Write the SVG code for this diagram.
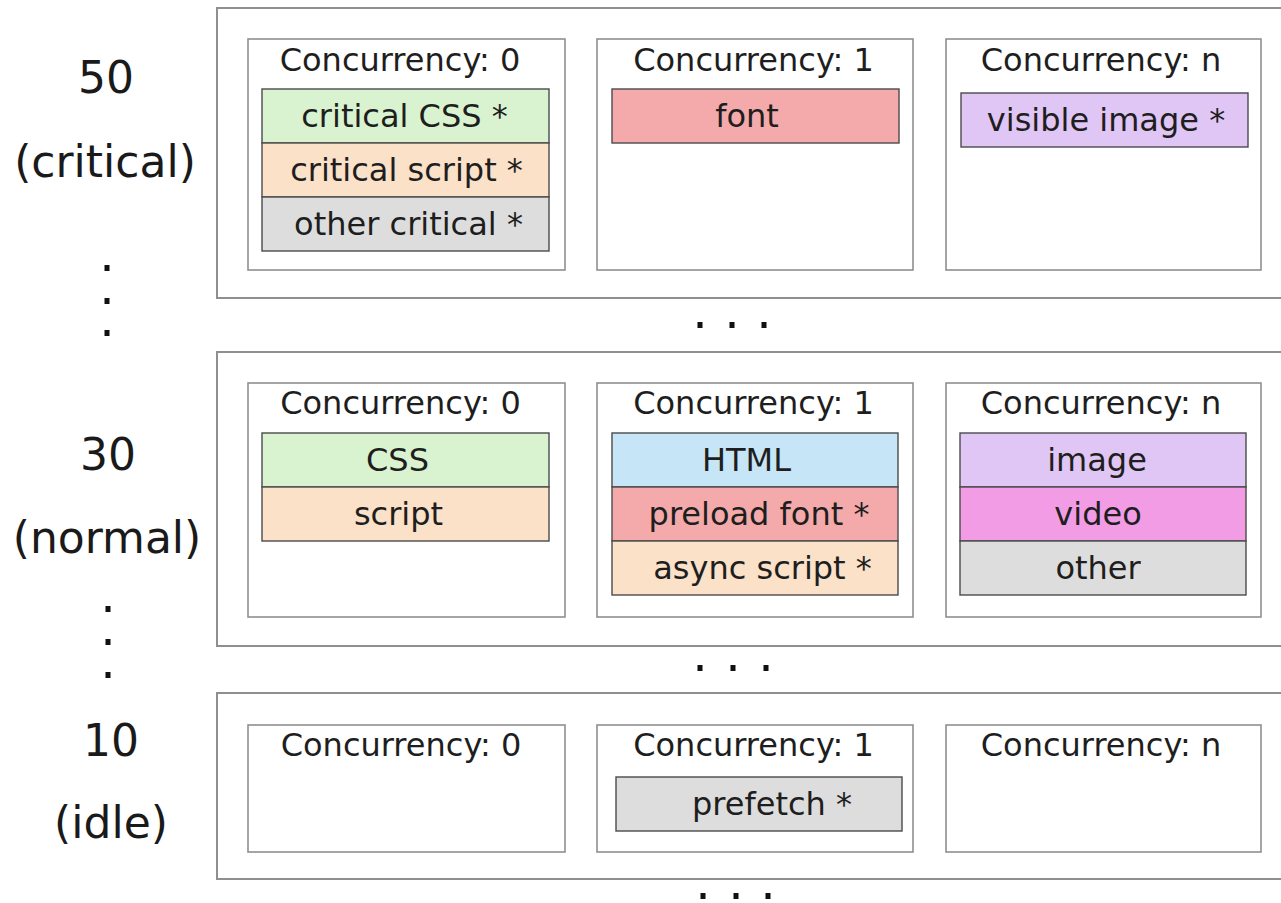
<svg xmlns="http://www.w3.org/2000/svg" width="1281" height="903" viewBox="0 0 1281 903">
  <style>
    .band { fill: #ffffff; stroke: #8f8f8f; stroke-width: 2; }
    .queue { fill: #ffffff; stroke: #8f8f8f; stroke-width: 1.6; }
    .item { stroke: #4a4a4a; stroke-width: 1.4; }
    .title { font-family: "DejaVu Sans", Verdana, sans-serif; font-size: 32px; fill: #1e1e1e; text-anchor: middle; }
    .label { font-family: "DejaVu Sans", Verdana, sans-serif; font-size: 32px; fill: #1e1e1e; text-anchor: middle; }
    .prio { font-family: "DejaVu Sans", Verdana, sans-serif; font-size: 44px; fill: #1a1a1a; text-anchor: middle; }
    .dot { fill: #111111; }
    .css { fill: #d9f3d0; }
    .script { fill: #fae1c8; }
    .other { fill: #dddddd; }
    .font { fill: #f4aaab; }
    .image { fill: #e0c6f5; }
    .html { fill: #c6e6f8; }
    .video { fill: #f29ce5; }
  </style>

  <rect width="1281" height="903" fill="#ffffff"/>

  <!-- priority labels -->
  <g id="priority-labels">
    <text class="prio" x="106" y="93">50</text>
    <text class="prio" x="105" y="177">(critical)</text>
    <text class="prio" x="108" y="470">30</text>
    <text class="prio" x="107" y="553">(normal)</text>
    <text class="prio" x="111" y="756">10</text>
    <text class="prio" x="111" y="838">(idle)</text>
  </g>

  <!-- ellipsis dots -->
  <g id="ellipses">
    <rect class="dot" x="104.5" y="265" width="5" height="6"/>
    <rect class="dot" x="104.5" y="298" width="5" height="6"/>
    <rect class="dot" x="104.5" y="330" width="5" height="6"/>
    <rect class="dot" x="105.5" y="606" width="5" height="6"/>
    <rect class="dot" x="105.5" y="639" width="5" height="6"/>
    <rect class="dot" x="105.5" y="672" width="5" height="6"/>
    <rect class="dot" x="697.5" y="322" width="5" height="6"/>
    <rect class="dot" x="729.5" y="322" width="5" height="6"/>
    <rect class="dot" x="761.5" y="322" width="5" height="6"/>
    <rect class="dot" x="697.5" y="665" width="5" height="6"/>
    <rect class="dot" x="730.5" y="665" width="5" height="6"/>
    <rect class="dot" x="763.5" y="665" width="5" height="6"/>
    <rect class="dot" x="700.5" y="893" width="5" height="6"/>
    <rect class="dot" x="733.5" y="893" width="5" height="6"/>
    <rect class="dot" x="765.5" y="893" width="5" height="6"/>
  </g>

  <!-- priority 50 band -->
  <g id="band-critical">
    <rect class="band" x="217" y="8" width="1100" height="290"/>
  </g>
  <g id="critical-c0">
    <rect class="queue" x="248" y="39" width="317" height="231"/>
    <text class="title" x="400" y="71">Concurrency: 0</text>
    <rect class="item css" x="262" y="89" width="287" height="54"/>
    <text class="label" x="404.5" y="127">critical CSS *</text>
    <rect class="item script" x="262" y="143" width="287" height="54"/>
    <text class="label" x="406.5" y="181">critical script *</text>
    <rect class="item other" x="262" y="197" width="287" height="54"/>
    <text class="label" x="408.5" y="235">other critical *</text>
  </g>
  <g id="critical-c1">
    <rect class="queue" x="597" y="39" width="316" height="231"/>
    <text class="title" x="753.5" y="71">Concurrency: 1</text>
    <rect class="item font" x="612" y="89" width="287" height="54"/>
    <text class="label" x="747" y="127">font</text>
  </g>
  <g id="critical-cn">
    <rect class="queue" x="946" y="39" width="315" height="231"/>
    <text class="title" x="1101" y="71">Concurrency: n</text>
    <rect class="item image" x="961" y="93" width="287" height="54"/>
    <text class="label" x="1106" y="131">visible image *</text>
  </g>

  <!-- priority 30 band -->
  <g id="band-normal">
    <rect class="band" x="217" y="352" width="1100" height="294"/>
  </g>
  <g id="normal-c0">
    <rect class="queue" x="248" y="383" width="317" height="234"/>
    <text class="title" x="400.5" y="414">Concurrency: 0</text>
    <rect class="item css" x="262" y="433" width="287" height="54"/>
    <text class="label" x="397.5" y="471">CSS</text>
    <rect class="item script" x="262" y="487" width="287" height="54"/>
    <text class="label" x="398.5" y="525">script</text>
  </g>
  <g id="normal-c1">
    <rect class="queue" x="597" y="383" width="316" height="234"/>
    <text class="title" x="753.5" y="414">Concurrency: 1</text>
    <rect class="item html" x="612" y="433" width="286" height="54"/>
    <text class="label" x="746.5" y="471">HTML</text>
    <rect class="item font" x="612" y="487" width="286" height="54"/>
    <text class="label" x="759" y="525">preload font *</text>
    <rect class="item script" x="612" y="541" width="286" height="54"/>
    <text class="label" x="762.5" y="579">async script *</text>
  </g>
  <g id="normal-cn">
    <rect class="queue" x="946" y="383" width="315" height="234"/>
    <text class="title" x="1101" y="414">Concurrency: n</text>
    <rect class="item image" x="960" y="433" width="286" height="54"/>
    <text class="label" x="1097" y="471">image</text>
    <rect class="item video" x="960" y="487" width="286" height="54"/>
    <text class="label" x="1098" y="525">video</text>
    <rect class="item other" x="960" y="541" width="286" height="54"/>
    <text class="label" x="1098" y="579">other</text>
  </g>

  <!-- priority 10 band -->
  <g id="band-idle">
    <rect class="band" x="217" y="693" width="1100" height="186"/>
  </g>
  <g id="idle-c0">
    <rect class="queue" x="248" y="725" width="317" height="127"/>
    <text class="title" x="401" y="756">Concurrency: 0</text>
  </g>
  <g id="idle-c1">
    <rect class="queue" x="597" y="725" width="316" height="127"/>
    <text class="title" x="753.5" y="756">Concurrency: 1</text>
    <rect class="item other" x="616" y="777" width="286" height="54"/>
    <text class="label" x="772" y="815">prefetch *</text>
  </g>
  <g id="idle-cn">
    <rect class="queue" x="946" y="725" width="315" height="127"/>
    <text class="title" x="1101" y="756">Concurrency: n</text>
  </g>
</svg>
